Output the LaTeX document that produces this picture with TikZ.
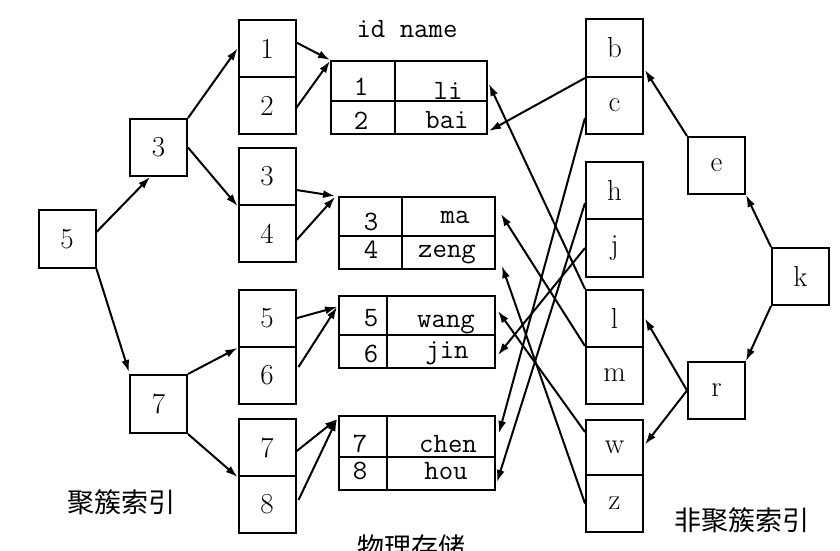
\documentclass[tikz,border=0pt]{standalone}
\usepackage{fontspec}
\newfontfamily\cjk{Noto Sans CJK SC}
\usetikzlibrary{arrows.meta,calc}
\begin{document}
\begin{tikzpicture}[x=1pt,y=-1pt,
  box/.style={draw, line width=2pt, minimum width=57pt, minimum height=57pt, inner sep=0pt, font=\fontsize{29}{32}\selectfont},
  tbl/.style={draw, line width=2pt, inner sep=0pt},
  sep/.style={line width=2pt},
  arr/.style={line width=2pt, -{Latex[length=12pt,width=8pt]}},
  tt/.style={font=\ttfamily\fontsize{28}{30}\selectfont, inner sep=0pt, anchor=base},
  zh/.style={font=\cjk\fontsize{27}{30}\selectfont, inner sep=0pt}]
\useasboundingbox (0,0) rectangle (840,550);
\fill[white] (0,0) rectangle (840,550);

% left clustered index
\node[box, minimum height=58pt] (L5) at (67,239) {5};
\node[box] (L3) at (158.5,147.5) {3};
\node[box, minimum height=58pt] (L7) at (158.5,404) {7};
\node[box] (A1) at (267,48.5) {1};
\node[box] (A2) at (267,105.5) {2};
\node[box] (A3) at (267,176.5) {3};
\node[box] (A4) at (267,233.5) {4};
\node[box] (A5) at (267,318.5) {5};
\node[box] (A6) at (267,375.5) {6};
\node[box] (A7) at (267,447.5) {7};
\node[box] (A8) at (267,504) {8};

% tables
\node[tbl, minimum width=156pt, minimum height=73pt] (T1) at (409,97.5) {};
\draw[sep] (395,61) -- (395,134);
\draw[sep] (331,101) -- (487,101);
\node[tbl, minimum width=156pt, minimum height=72pt] (T2) at (417,233) {};
\draw[sep] (402,197) -- (402,269);
\draw[sep] (339,236) -- (495,236);
\node[tbl, minimum width=156pt, minimum height=72pt] (T3) at (417,332) {};
\draw[sep] (387,296) -- (387,368);
\draw[sep] (339,335) -- (495,335);
\node[tbl, minimum width=156pt, minimum height=74pt] (T4) at (417,453) {};
\draw[sep] (387,416) -- (387,490);
\draw[sep] (339,457) -- (495,457);

\node[tt] (hdr) at (407,37) {id name};
\node[tt] (c1a) at (361,95) {1};
\node[tt] (c1b) at (448,99) {li};
\node[tt] (c2a) at (361,129) {2};
\node[tt] (c2b) at (447,128) {bai};
\node[tt] (c3a) at (371,230) {3};
\node[tt] (c3b) at (455,223) {ma};
\node[tt] (c4a) at (371,258) {4};
\node[tt] (c4b) at (447,257) {zeng};
\node[tt] (c5a) at (371,326) {5};
\node[tt] (c5b) at (446,327) {wang};
\node[tt] (c6a) at (371,362) {6};
\node[tt] (c6b) at (447,358) {jin};
\node[tt] (c7a) at (360,452) {7};
\node[tt] (c7b) at (448,452) {chen};
\node[tt] (c8a) at (360,479) {8};
\node[tt] (c8b) at (446,479) {hou};

% right non-clustered index
\node[box, minimum height=58pt] (Bb) at (614.5,48) {b};
\node[box] (Bc) at (614.5,105.5) {c};
\node[box] (Bh) at (614.5,190.5) {h};
\node[box, minimum height=58pt] (Bj) at (614.5,248) {j};
\node[box] (Bl) at (614.5,318.5) {l};
\node[box] (Bm) at (614.5,375.5) {m};
\node[box, minimum height=55pt] (Bw) at (614.5,447.5) {w};
\node[box] (Bz) at (614.5,503.5) {z};
\node[box] (Re) at (716.5,165.5) {e};
\node[box] (Rk) at (800.5,276.5) {k};
\node[box] (Rr) at (716.5,390.5) {r};

% labels
\node[zh] (lab1) at (121,502) {聚簇索引};
\node[zh] (lab2) at (411,547) {物理存储};
\node[zh] (lab3) at (742,520) {非聚簇索引};

% left arrows
\draw[arr] ($(L5.east)+(0,-7)$) -- ($(L3.south)+(-8.5,0)$);
\draw[arr] (L5.south east) -- ($(L7.north west)+(0,-2)$);
\draw[arr] (L3.north east) -- (A1.west);
\draw[arr] (L3.east) -- (A3.south west);
\draw[arr] (L7.north east) -- (A5.south west);
\draw[arr] (L7.south east) -- (A7.south west);
\draw[arr] ($(A1.east)+(-1,-6.5)$) -- (T1.north west);
\draw[arr] ($(A2.east)+(-1,3.5)$) -- ($(T1.north west)+(0,1)$);
\draw[arr] ($(A3.east)+(0,13.5)$) -- ($(T2.north west)+(-3,0)$);
\draw[arr] ($(A4.east)+(0,6.5)$) -- ($(T2.north west)+(-3,1)$);
\draw[arr] ($(A5.east)+(-1,0)$) -- ($(T3.north west)+(-1,12)$);
\draw[arr] ($(A6.east)+(2,-8.5)$) -- ($(T3.north west)+(-1,12)$);
\draw[arr] ($(A7.east)+(-1,4.5)$) -- ($(T4.north west)+(-1,4)$);
\draw[arr] ($(A8.east)+(2,-4)$) -- ($(T4.north west)+(-1,4)$);

% right tree arrows
\draw[arr] (Re.north west) -- ($(Bb.south east)+(1,-8)$);
\draw[arr] (Rk.north west) -- (Re.south east);
\draw[arr] (Rk.south west) -- (Rr.north east);
\draw[arr] (Rr.west) -- ($(Bl.east)+(1,0)$);
\draw[arr] (Rr.west) -- ($(Bw.east)+(1,-3)$);

% non-clustered leaves to rows
\draw[arr] (Bb.south west) -- ($(T1.south east)+(1,-4)$);
\draw[arr] ($(Bc.west)+(0,12.5)$) -- ($(T4.north east)+(3,18)$);
\draw[arr] ($(Bh.west)+(0,12.5)$) -- ($(T4.south east)+(1,-9)$);
\draw[arr] (Bj.west) -- ($(T3.south east)+(2,-14)$);
\draw[arr] (Bl.north west) -- ($(T1.north east)+(1,24)$);
\draw[arr] (Bm.north west) -- ($(T2.north east)+(5,18)$);
\draw[arr] ($(Bw.west)+(0,-15.5)$) -- ($(T3.north east)+(2,16)$);
\draw[arr] (Bz.west) -- ($(T2.south east)+(6,-4)$);
\end{tikzpicture}
\end{document}
